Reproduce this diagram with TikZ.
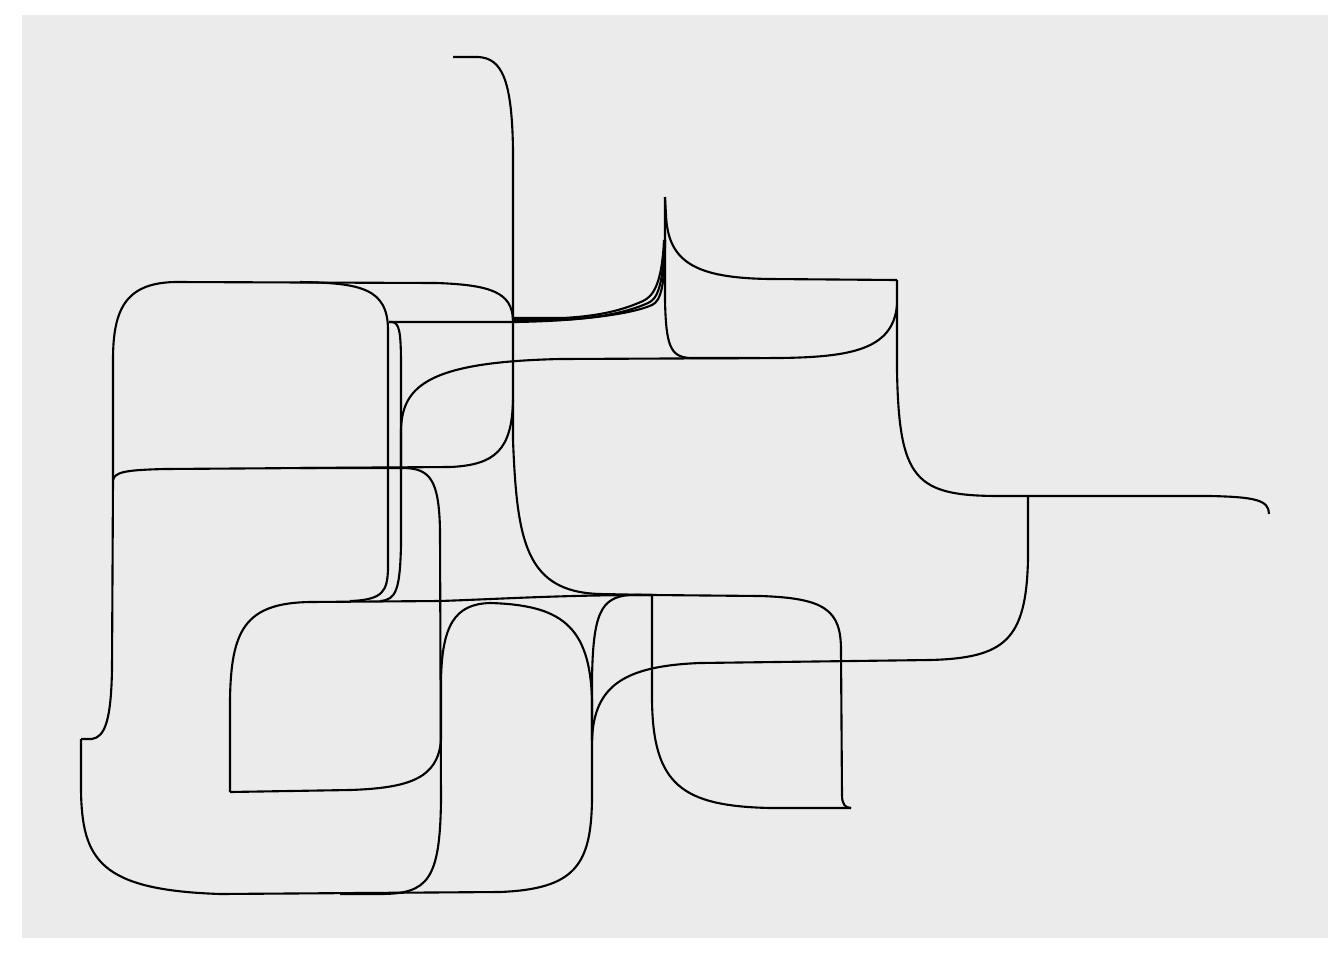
\documentclass[tikz,border=0pt]{standalone}
\usepackage{tikz}
\usetikzlibrary{calc}
\usepackage{tkz-euclide}
\definecolor{panel}{HTML}{EBEBEB}

\begin{document}
\begin{tikzpicture}[x=0.01cm,y=-0.01cm,line width=0.6pt]
        \useasboundingbox (0,0) rectangle (1344,960);
        \fill[white] (0,0) rectangle (1344,960);
        \fill[panel] (22,15) rectangle (1328,938);

        \tkzDefPoints{453/57/A,513/320/B,652/595/C,851/808/D,665/197/E,897/280/F,1269/514/G}
        \tkzDefPoints{1028/496/H,592/740/I,81/739/J,230/792/K,389/322/L,113/480/M}

        \draw (A) -- (478,57) .. controls (502,58) and (512,80) .. (513,150) -- (B) -- (513,440) .. controls (517,540) and (525,592) .. (600,594) -- (C);
        \draw (C) -- (760,596) .. controls (825,598) and (841,610) .. (841,650) -- (842,795) .. controls (842,804) and (845,808) .. (D);
        \draw (D) -- (770,808) .. controls (682,806) and (653,785) .. (652,700) -- (C);

        \draw (E) -- (666,215) .. controls (668,262) and (695,278) .. (770,279) -- (F);
        \draw (F) -- (897,370) .. controls (899,480) and (915,496) .. (1000,496) -- (1210,496) .. controls (1255,497) and (1269,500) .. (G);
        \draw (H) -- (1028,560) .. controls (1026,640) and (1005,658) .. (930,660) -- (700,663) .. controls (625,666) and (594,685) .. (I);
        \draw (C) -- (630,595) .. controls (600,597) and (593,615) .. (592,680) -- (I);

        \draw (J) -- (81,790) .. controls (82,860) and (100,890) .. (220,894) -- (500,892) .. controls (575,889) and (591,865) .. (592,800) -- (I);
        \draw (J) -- (92,739) .. controls (105,737) and (111,720) .. (112,670) -- (M) .. controls (115,472) and (125,470) .. (165,469) -- (450,467) .. controls (495,465) and (512,450) .. (513,400);
        \draw (M) -- (113,360) .. controls (113,310) and (125,283) .. (175,282) -- (437,283) .. controls (490,285) and (512,292) .. (B);

        \draw (300,282) .. controls (360,283) and (388,288) .. (388,330) -- (388,570) .. controls (387,590) and (384,600) .. (350,601);
        \draw (L) -- (392,322) .. controls (399,323) and (401,330) .. (401,365) -- (401,545) .. controls (400,590) and (396,600) .. (380,601);

        \draw (L) -- (515,322) .. controls (580,321) and (632,314) .. (652,305) .. controls (661,301) and (665,285) .. (665,240);
        \draw (513,318) -- (563,318) .. controls (600,316) and (623,310) .. (643,301) .. controls (654,296) and (662,282) .. (664,240);
        \draw (513,320) -- (560,320) .. controls (600,318) and (628,312) .. (648,303) .. controls (658,299) and (663,284) .. (665,240);

        \draw (E) -- (665,300) .. controls (666,345) and (670,357) .. (690,358) -- (760,358);
        \draw (401,470) -- (401,430) .. controls (402,385) and (430,362) .. (560,359) -- (780,358) .. controls (850,357) and (893,350) .. (897,305);

        \draw (K) -- (350,790) .. controls (410,788) and (438,778) .. (441,740) -- (441,680) .. controls (442,625) and (455,604) .. (490,603) .. controls (560,605) and (590,625) .. (592,700) -- (I);
        \draw (K) -- (230,700) .. controls (231,630) and (245,603) .. (310,602) -- (440,601) .. controls (500,599) and (560,595) .. (C);
        \draw (300,468) -- (405,468) .. controls (430,469) and (439,480) .. (440,530) -- (441,800) .. controls (440,880) and (428,894) .. (380,894) -- (340,894);
\end{tikzpicture}
\end{document}
